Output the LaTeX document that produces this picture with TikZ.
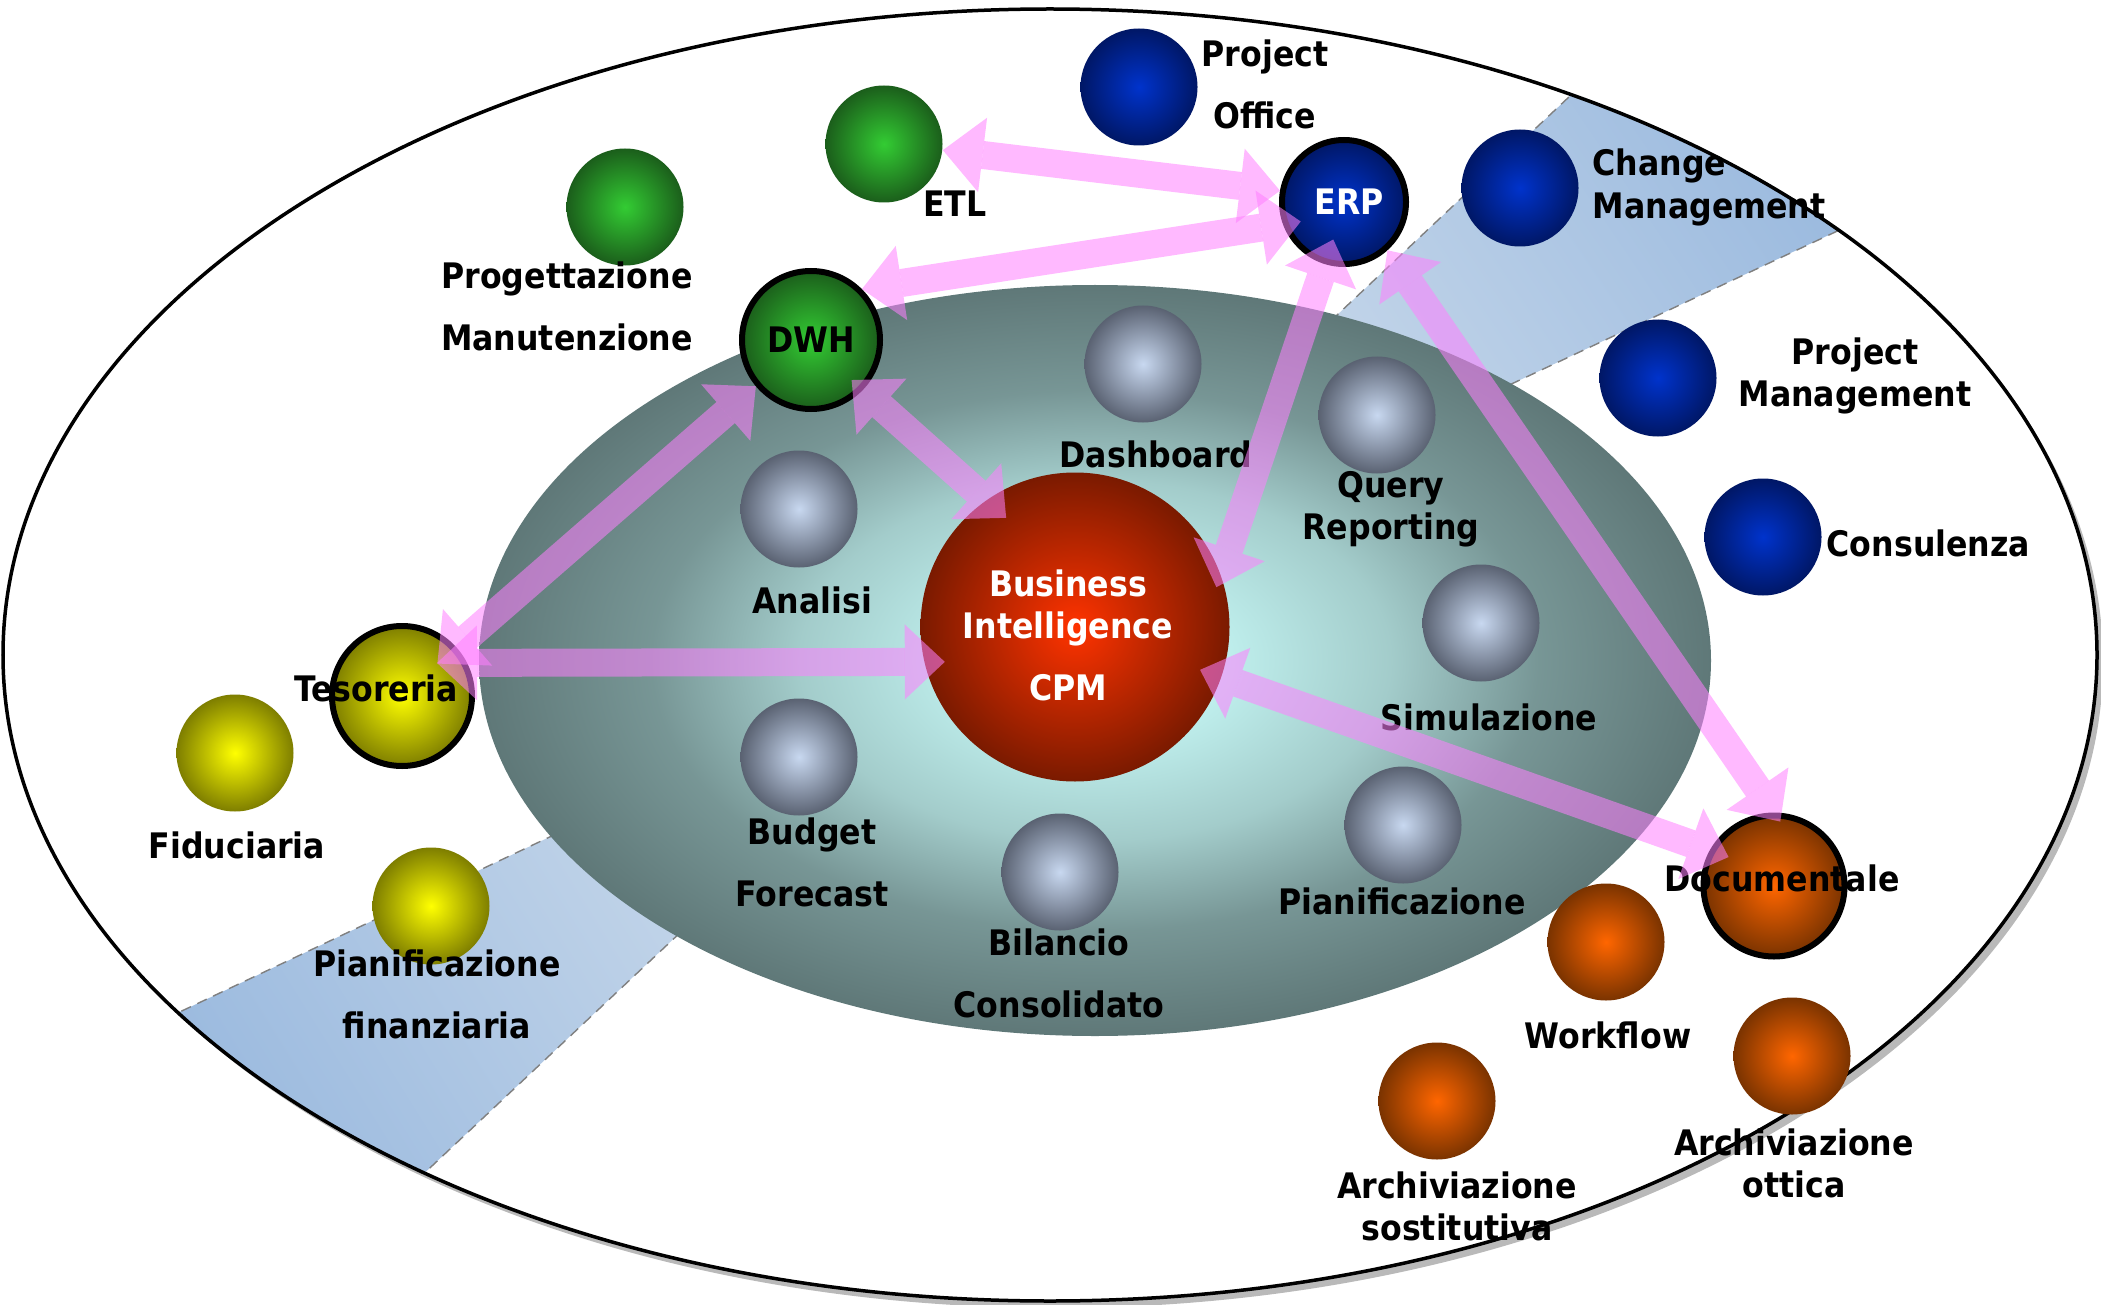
\documentclass[tikz,border=0pt]{standalone}
\usepackage{fontspec}
\setmainfont{DejaVu Sans Condensed}
\usepackage{xcolor}
\usetikzlibrary{arrows.meta, positioning}

% colori delle sfere (centro / bordo)
\definecolor{verdeC}{HTML}{33CC33}   \definecolor{verdeS}{HTML}{1B5E1B}
\definecolor{bluC}{HTML}{0033CC}     \definecolor{bluS}{HTML}{001766}
\definecolor{gialloC}{HTML}{FFFF00}  \definecolor{gialloS}{HTML}{7E7E00}
\definecolor{arancioC}{HTML}{FF6600} \definecolor{arancioS}{HTML}{7A3300}
\definecolor{grigioC}{HTML}{C8D8F0}  \definecolor{grigioS}{HTML}{5A6272}
\definecolor{rossoC}{HTML}{FF3300}   \definecolor{rossoS}{HTML}{7A1A00}
% sfondo e frecce
\definecolor{cianoC}{HTML}{C0F0EE}   \definecolor{ardesia}{HTML}{5F7878}
\definecolor{fasciaS}{HTML}{98B8DE}  \definecolor{fasciaC}{HTML}{D6E2EE}
\definecolor{rosa}{RGB}{255,128,255}

\pgfdeclareradialshading{conca}{\pgfpoint{0bp}{0bp}}{color(0bp)=(cianoC); color(5bp)=(cianoC); color(12bp)=(cianoC!70!ardesia); color(18bp)=(cianoC!25!ardesia); color(25bp)=(ardesia); color(50bp)=(ardesia)}

\begin{document}
\begin{tikzpicture}[
    % sfere
    ball/.style={circle, inner sep=0pt, minimum size=11.7mm, font=\bfseries\fontsize{10}{12}\selectfont},
    verde/.style={ball, inner color=verdeC, outer color=verdeS},
    blu/.style={ball, inner color=bluC, outer color=bluS},
    giallo/.style={ball, inner color=gialloC, outer color=gialloS},
    arancio/.style={ball, inner color=arancioC, outer color=arancioS},
    grigio/.style={ball, inner color=grigioC, outer color=grigioS},
    main/.style={draw=black, line width=0.6mm, minimum size=13.8mm},
    % etichette
    lbl/.style={align=center, inner sep=0pt, font=\bfseries\fontsize{10}{12}\selectfont},
    % frecce rosa
    link/.style={line width=2.8mm, draw=rosa, opacity=0.55,
        {Triangle[length=4mm, width=7.5mm, line width=0pt]}-{Triangle[length=4mm, width=7.5mm, line width=0pt]}}
]
\useasboundingbox (0,0) rectangle (21.01,-13.05);

% ellisse esterna con ombra
\fill[gray!55] (10.56,-6.62) ellipse [x radius=10.47, y radius=6.46];
\fill[white] (10.50,-6.55) ellipse [x radius=10.47, y radius=6.46];

% fascia diagonale
\begin{scope}
    \clip (10.50,-6.55) ellipse [x radius=10.47, y radius=6.46];
    \shadedraw[left color=fasciaS, right color=fasciaC, shading angle=122, draw=gray, densely dashed]
        (10.17,-6.16) -- (0.95,-10.52) -- (1.5,-12.8) -- (3.66,-12.28) -- cycle;
    \shadedraw[left color=fasciaS, right color=fasciaC, shading angle=-56, draw=gray, densely dashed]
        (10.17,-6.16) -- (19.12,-1.96) -- (18.8,0.2) -- (16.21,-0.48) -- cycle;
\end{scope}
\draw[black, line width=0.35mm] (10.50,-6.55) ellipse [x radius=10.47, y radius=6.46];

% ellisse interna
\shade[shading=conca] (10.95,-6.605) ellipse [x radius=6.16, y radius=3.755];

% sfere verdi
\node (prog) [verde] at (6.25,-2.07) {};
\node (etl) [verde] at (8.84,-1.44) {};
\node (dwh) [verde, main] at (8.11,-3.40) {DWH};

% sfere blu
\node (proff) [blu] at (11.39,-0.87) {};
\node (erp) [blu, main, minimum size=12.4mm, text=white] at (13.44,-2.02) {\hspace{1mm}ERP};
\node (chg) [blu] at (15.20,-1.88) {};
\node (pm) [blu] at (16.58,-3.78) {};
\node (cons) [blu] at (17.63,-5.37) {};

% sfere gialle
\node (tes) [giallo, main, minimum size=14.0mm] at (4.02,-6.96) {};
\node (fid) [giallo] at (2.35,-7.53) {};
\node (pfin) [giallo] at (4.31,-9.06) {};

% sfere arancio
\node (doc) [arancio, main, minimum size=14.1mm] at (17.74,-8.86) {};
\node (wf) [arancio] at (16.06,-9.42) {};
\node (aott) [arancio] at (17.92,-10.56) {};
\node (asost) [arancio] at (14.37,-11.01) {};

% sfere grigie
\node (dash) [grigio] at (11.43,-3.64) {};
\node (query) [grigio] at (13.77,-4.15) {};
\node (anal) [grigio] at (7.99,-5.09) {};
\node (sim) [grigio] at (14.81,-6.23) {};
\node (budget) [grigio] at (7.99,-7.57) {};
\node (bil) [grigio] at (10.60,-8.72) {};
\node (pian) [grigio] at (14.03,-8.25) {};

% centro
\node (bi) [ball, inner color=rossoC, outer color=rossoS, minimum size=30.9mm] at (10.75,-6.27) {};
\node (bi-t) [lbl, text=white] at (10.68,-6.35) {Business\\Intelligence\\[5.6pt]CPM};

% etichette
\node (etl-t) [lbl] at (9.55,-2.04) {ETL};
\node (prog-t) [lbl] at (5.67,-3.06) {Progettazione\\[5.6pt]Manutenzione};
\node (proff-t) [lbl] at (12.65,-0.84) {Project\\[5.6pt]Office};
\node (chg-t) [lbl, anchor=west, align=left] at (15.92,-1.875) {Change\\Management};
\node (pm-t) [lbl] at (18.55,-3.76) {Project\\Management};
\node (cons-t) [lbl, anchor=west] at (18.26,-5.43) {Consulenza};
\node (dash-t) [lbl] at (11.56,-4.54) {Dashboard};
\node (query-t) [lbl] at (13.91,-5.09) {Query\\Reporting};
\node (anal-t) [lbl] at (8.12,-6.00) {Analisi};
\node (sim-t) [lbl] at (14.89,-7.17) {Simulazione};
\node (budget-t) [lbl] at (8.12,-8.625) {Budget\\[5.6pt]Forecast};
\node (bil-t) [lbl] at (10.59,-9.735) {Bilancio\\[5.6pt]Consolidato};
\node (pian-t) [lbl] at (14.02,-9.01) {Pianificazione};
\node (tes-t) [lbl] at (3.76,-6.88) {Tesoreria};
\node (fid-t) [lbl] at (2.37,-8.45) {Fiduciaria};
\node (pfin-t) [lbl] at (4.37,-9.94) {Pianificazione\\[5.6pt]finanziaria};
\node (doc-t) [lbl] at (17.82,-8.78) {Documentale};
\node (wf-t) [lbl] at (16.08,-10.35) {Workflow};
\node (aott-t) [lbl] at (17.94,-11.63) {Archiviazione\\ottica};
\node (asost-t) [lbl] at (14.57,-12.065) {Archiviazione\\sostitutiva};

% frecce
\draw [link] (etl.-6) -- (erp.170);
\draw [link, shorten >=-1.8mm] (dwh.45) -- (erp.200);
\draw [link, shorten <=-2.6mm, shorten >=-1.4mm] (erp.-107) -- (bi.20);
\draw [link, shorten >=-1.1mm] (erp.-48) -- (doc.90);
\draw [link, shorten <=-2.3mm, shorten >=-2mm] (bi.-19) -- (doc.151);
\draw [link, shorten <=-1.5mm, shorten >=-2.7mm] (dwh.-44) -- (bi.125);
\draw [link, shorten <=-2.5mm] (tes.42) -- (dwh.220);
\draw [link, shorten <=-3mm, shorten >=-2.1mm] (tes.27) -- (bi.193);

\end{tikzpicture}
\end{document}
